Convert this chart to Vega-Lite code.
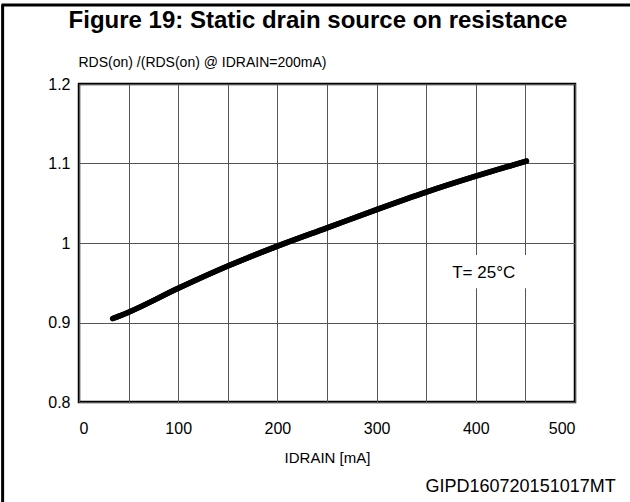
{
  "$schema": "https://vega.github.io/schema/vega-lite/v6.json",
  "autosize": {"type": "none"},
  "width": 496,
  "height": 318,
  "padding": {"left": 79, "top": 84, "right": 55, "bottom": 100},
  "background": "white",
  "title": {
    "text": "Figure 19: Static drain source on resistance",
    "font": "Liberation Sans",
    "fontSize": 24,
    "fontWeight": "bold",
    "color": "black",
    "dx": -9,
    "offset": -30
  },
  "config": {
    "view": {"stroke": "black", "strokeWidth": 2.5},
    "font": "Liberation Sans",
    "text": {"font": "Liberation Sans", "color": "black"}
  },
  "datasets": {
    "curve": [
      {"I": 34, "R": 0.905},
      {"I": 50, "R": 0.913},
      {"I": 100, "R": 0.943},
      {"I": 150, "R": 0.971},
      {"I": 200, "R": 0.996},
      {"I": 250, "R": 1.019},
      {"I": 300, "R": 1.042},
      {"I": 350, "R": 1.064},
      {"I": 400, "R": 1.084},
      {"I": 451, "R": 1.103}
    ]
  },
  "layer": [
    {
      "data": {"name": "curve"},
      "mark": {"type": "line", "color": "black", "strokeWidth": 5.5, "strokeCap": "round", "interpolate": "monotone"},
      "encoding": {
        "x": {
          "field": "I", "type": "quantitative",
          "scale": {"domain": [0, 500], "nice": false, "zero": false},
          "axis": {
            "values": [0, 50, 100, 150, 200, 250, 300, 350, 400, 450, 500],
            "labelExpr": "datum.value % 100 === 0 ? datum.label : ''",
            "grid": true, "gridColor": "#555555", "gridWidth": 1, "gridOpacity": 1,
            "ticks": false, "domain": false,
            "labelFont": "Liberation Sans", "labelFontSize": 16, "labelColor": "black",
            "labelPadding": 18,
            "title": "IDRAIN [mA]",
            "titleFont": "Liberation Sans", "titleFontSize": 15, "titleFontWeight": "normal", "titleColor": "black",
            "titlePadding": 14
          }
        },
        "y": {
          "field": "R", "type": "quantitative",
          "scale": {"domain": [0.8, 1.2], "nice": false, "zero": false},
          "axis": {
            "values": [0.8, 0.9, 1.0, 1.1, 1.2],
            "labelExpr": "format(datum.value, '~g')",
            "grid": true, "gridColor": "#555555", "gridWidth": 1, "gridOpacity": 1,
            "ticks": false, "domain": false,
            "labelFont": "Liberation Sans", "labelFontSize": 16, "labelColor": "black",
            "labelPadding": 9,
            "title": "RDS(on) /(RDS(on) @ IDRAIN=200mA)",
            "titleFont": "Liberation Sans", "titleFontSize": 14, "titleFontWeight": "normal", "titleColor": "black",
            "titleAngle": 0, "titleAlign": "left", "titleBaseline": "middle",
            "titleX": -1, "titleY": -22
          }
        }
      }
    },
    {
      "data": {"values": [{}]},
      "mark": {"type": "rect", "color": "white"},
      "encoding": {
        "x": {"datum": 378},
        "x2": {"datum": 462},
        "y": {"datum": 0.943},
        "y2": {"datum": 0.985}
      }
    },
    {
      "data": {"values": [{}]},
      "mark": {"type": "text", "text": "T= 25°C", "fontSize": 17, "align": "center", "baseline": "middle"},
      "encoding": {
        "x": {"datum": 408},
        "y": {"datum": 0.962}
      }
    },
    {
      "data": {"values": [{}]},
      "mark": {"type": "text", "text": "GIPD160720151017MT", "fontSize": 18, "align": "right", "baseline": "middle"},
      "encoding": {
        "x": {"datum": 541},
        "y": {"datum": 0.693}
      }
    },
    {
      "data": {"values": [{}]},
      "mark": {"type": "rule", "color": "black", "strokeWidth": 3},
      "encoding": {
        "x": {"datum": -77},
        "y": {"datum": 1.3},
        "y2": {"datum": 0.66}
      }
    },
    {
      "data": {"values": [{}]},
      "mark": {"type": "rule", "color": "black", "strokeWidth": 3},
      "encoding": {
        "x": {"datum": -78},
        "x2": {"datum": 560},
        "y": {"datum": 1.2994}
      }
    },
    {
      "data": {"name": "curve"},
      "mark": {"type": "line", "color": "black", "strokeWidth": 5.5, "strokeCap": "round", "interpolate": "monotone"},
      "encoding": {
        "x": {"field": "I", "type": "quantitative"},
        "y": {"field": "R", "type": "quantitative"}
      }
    }
  ]
}
